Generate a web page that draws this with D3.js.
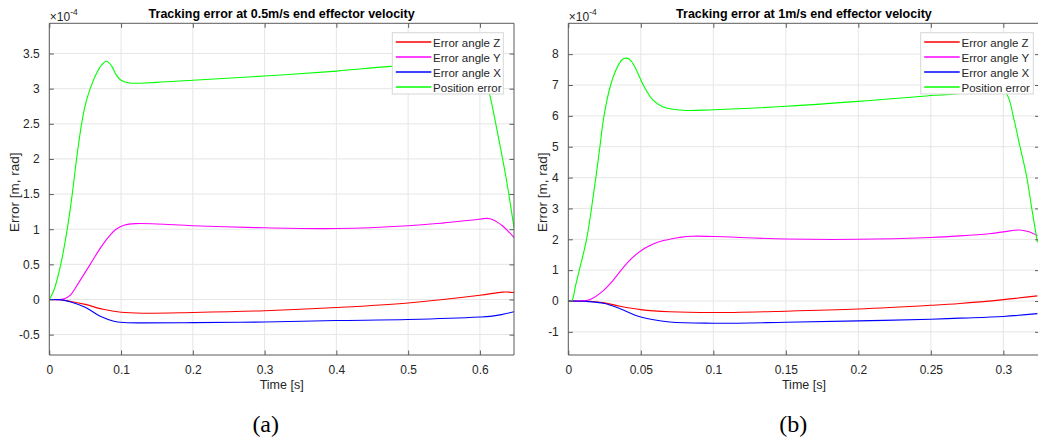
<!DOCTYPE html>
<html>
<head>
<meta charset="utf-8">
<script src="https://cdn.jsdelivr.net/npm/d3@7/dist/d3.min.js"></script>
<style>
  html, body { margin: 0; padding: 0; background: #ffffff; }
  svg { display: block; }
</style>
</head>
<body>
<svg id="chart" width="1038" height="441"></svg>
<script>
// ---------------- DATA (values in units of 1e-4) ----------------
const seriesNames = ["Error angle Z", "Error angle Y", "Error angle X", "Position error"];

// Chart (a): 0.5 m/s
const titleA = "Tracking error at 0.5m/s end effector velocity";
const captionA = "(a)";
const xTicksA = [0, 0.1, 0.2, 0.3, 0.4, 0.5, 0.6];
const yTicksA = [-0.5, 0, 0.5, 1, 1.5, 2, 2.5, 3, 3.5];
const xDomainA = [0, 0.6475];
const yDomainA = [-0.79, 3.93];
const angleZ_A = [[0,0],[0.015,-0.004],[0.03,-0.028],[0.05,-0.07],[0.075,-0.14],[0.1,-0.182],[0.13,-0.195],[0.2,-0.185],[0.3,-0.16],[0.4,-0.115],[0.5,-0.05],[0.6,0.06],[0.632,0.105],[0.6475,0.10]];
const angleY_A = [[0,0],[0.015,0.0],[0.022,0.015],[0.03,0.07],[0.041,0.24],[0.057,0.5],[0.073,0.76],[0.085,0.92],[0.093,1.0],[0.105,1.06],[0.12,1.08],[0.15,1.075],[0.2,1.05],[0.3,1.02],[0.4,1.01],[0.5,1.05],[0.55,1.09],[0.59,1.13],[0.614,1.15],[0.63,1.06],[0.6475,0.88]];
const angleX_A = [[0,0],[0.017,-0.005],[0.03,-0.035],[0.05,-0.11],[0.071,-0.24],[0.09,-0.31],[0.105,-0.328],[0.13,-0.333],[0.2,-0.33],[0.3,-0.32],[0.4,-0.30],[0.5,-0.285],[0.6,-0.25],[0.614,-0.24],[0.63,-0.215],[0.6475,-0.175]];
const position_A = [[0,0],[0.006,0.12],[0.016,0.5],[0.025,1.0],[0.032,1.5],[0.038,2.0],[0.045,2.5],[0.051,2.8],[0.057,3.0],[0.065,3.2],[0.073,3.34],[0.08,3.39],[0.087,3.32],[0.093,3.2],[0.1,3.12],[0.112,3.08],[0.15,3.09],[0.2,3.12],[0.3,3.18],[0.4,3.25],[0.48,3.32],[0.55,3.35],[0.595,3.38],[0.605,3.25],[0.614,2.9],[0.625,2.35],[0.637,1.70],[0.6475,1.02]];

// Chart (b): 1 m/s
const titleB = "Tracking error at 1m/s end effector velocity";
const captionB = "(b)";
const xTicksB = [0, 0.05, 0.1, 0.15, 0.2, 0.25, 0.3];
const yTicksB = [-1, 0, 1, 2, 3, 4, 5, 6, 7, 8];
const xDomainB = [0, 0.325];
const yDomainB = [-1.75, 9];
const angleZ_B = [[0,0],[0.015,-0.01],[0.025,-0.06],[0.0357,-0.17],[0.05,-0.28],[0.07,-0.35],[0.1,-0.375],[0.15,-0.33],[0.2,-0.26],[0.25,-0.14],[0.27,-0.08],[0.3,0.045],[0.3235,0.165]];
const angleY_B = [[0,0],[0.008,0.0],[0.015,0.05],[0.024,0.33],[0.03,0.62],[0.0356,0.95],[0.041,1.25],[0.047,1.52],[0.053,1.72],[0.0586,1.85],[0.065,1.95],[0.07,2.0],[0.078,2.07],[0.086,2.1],[0.1,2.09],[0.15,2.01],[0.2,2.0],[0.25,2.06],[0.27,2.11],[0.29,2.18],[0.3,2.24],[0.311,2.3],[0.317,2.25],[0.3235,2.12]];
const angleX_B = [[0,0],[0.012,-0.01],[0.025,-0.08],[0.0357,-0.25],[0.05,-0.52],[0.07,-0.68],[0.1,-0.72],[0.15,-0.69],[0.2,-0.645],[0.25,-0.59],[0.27,-0.555],[0.3,-0.5],[0.3235,-0.41]];
const position_B = [[0,0],[0.0023,0],[0.005,0.5],[0.0076,1.0],[0.0126,2.0],[0.016,3.0],[0.019,4.0],[0.0218,5.0],[0.0246,6.0],[0.0292,7.0],[0.033,7.5],[0.037,7.82],[0.0398,7.87],[0.043,7.8],[0.047,7.48],[0.0517,7.0],[0.0586,6.5],[0.066,6.28],[0.079,6.18],[0.1,6.2],[0.15,6.31],[0.2,6.47],[0.2425,6.63],[0.27,6.73],[0.29,6.85],[0.297,6.9],[0.3,6.85],[0.3035,6.6],[0.3075,5.85],[0.3115,5.0],[0.316,4.05],[0.3196,3.0],[0.3235,1.9]];

// ---------------- STYLE / LAYOUT ----------------
const colors = ["#ff0000", "#ff00ff", "#0000ff", "#00ff00"];
const FONT = "'Liberation Sans', Arial, Helvetica, sans-serif";
const textColor = "#262626";
const axisColor = "#5a5a5a";
const gridColor = "#e6e6e6";

const charts = [
  { title: titleA, caption: captionA, xTicks: xTicksA, yTicks: yTicksA, xDomain: xDomainA, yDomain: yDomainA,
    series: [angleZ_A, angleY_A, angleX_A, position_A],
    left: 49.3, right: 514, top: 23.3, bottom: 355, ylabelX: 19, legendX: 392.3, legendW: 111, captionX: 265.7 },
  { title: titleB, caption: captionB, xTicks: xTicksB, yTicks: yTicksB, xDomain: xDomainB, yDomain: yDomainB,
    series: [angleZ_B, angleY_B, angleX_B, position_B],
    left: 568.3, right: 1039.6, top: 23.3, bottom: 355, ylabelX: 546.5, legendX: 920.7, legendW: 112.6, captionX: 793.3 }
];

const svg = d3.select("#chart");

charts.forEach((c, ci) => {
  const x = d3.scaleLinear().domain(c.xDomain).range([c.left, c.right]);
  const y = d3.scaleLinear().domain(c.yDomain).range([c.bottom, c.top]);
  const g = svg.append("g");

  const clipId = "clip" + ci;
  svg.append("clipPath").attr("id", clipId).append("rect")
    .attr("x", c.left).attr("y", c.top).attr("width", c.right - c.left).attr("height", c.bottom - c.top);

  // grid
  g.append("g").selectAll("line").data(c.xTicks).join("line")
    .attr("x1", d => x(d)).attr("x2", d => x(d)).attr("y1", c.top).attr("y2", c.bottom)
    .attr("stroke", gridColor).attr("stroke-width", 1);
  g.append("g").selectAll("line").data(c.yTicks).join("line")
    .attr("x1", c.left).attr("x2", c.right).attr("y1", d => y(d)).attr("y2", d => y(d))
    .attr("stroke", gridColor).attr("stroke-width", 1);

  const tl = 4.5;
  const xAxisB = d3.axisBottom(x).tickValues(c.xTicks).tickSize(-tl).tickPadding(tl + 6).tickFormat(d => String(d));
  const xAxisT = d3.axisTop(x).tickValues(c.xTicks).tickSize(-tl).tickFormat("");
  const yAxisL = d3.axisLeft(y).tickValues(c.yTicks).tickSize(-tl).tickPadding(tl + 5).tickFormat(d => String(d));
  const yAxisR = d3.axisRight(y).tickValues(c.yTicks).tickSize(-tl).tickFormat("");

  // lines
  const lineGen = d3.line().x(d => x(d[0])).y(d => y(d[1])).curve(d3.curveCatmullRom.alpha(0.5));
  const lg = g.append("g").attr("clip-path", `url(#${clipId})`);
  c.series.forEach((s, i) => {
    lg.append("path").datum(s).attr("d", lineGen)
      .attr("fill", "none").attr("stroke", colors[i]).attr("stroke-width", 1.1)
      .attr("stroke-linejoin", "round");
  });

  const styleAxis = sel => {
    sel.select(".domain").attr("stroke", axisColor).attr("stroke-width", 1);
    sel.selectAll(".tick line").attr("stroke", axisColor).attr("stroke-width", 1);
    sel.selectAll(".tick text").attr("fill", textColor).style("font-family", FONT).style("font-size", "12px");
    sel.attr("font-family", null).attr("font-size", null);
  };
  g.append("g").attr("transform", `translate(0,${c.bottom})`).call(xAxisB).call(styleAxis)
    .call(s => s.select(".domain").attr("d", `M${c.left},0H${c.right}`));
  g.append("g").attr("transform", `translate(0,${c.top})`).call(xAxisT).call(styleAxis)
    .call(s => s.select(".domain").attr("d", `M${c.left},0H${c.right}`));
  g.append("g").attr("transform", `translate(${c.left},0)`).call(yAxisL).call(styleAxis)
    .call(s => s.select(".domain").attr("d", `M0,${c.top}V${c.bottom}`));
  g.append("g").attr("transform", `translate(${c.right},0)`).call(yAxisR).call(styleAxis)
    .call(s => s.select(".domain").attr("d", `M0,${c.top}V${c.bottom}`));

  // exponent label
  const ex = g.append("text").attr("x", c.left + 0.5).attr("y", 20.5)
    .attr("fill", textColor).style("font-family", FONT).style("font-size", "12px");
  ex.append("tspan").text("\u00d710");
  ex.append("tspan").attr("dy", -6).style("font-size", "8.5px").text("-4");

  // title
  g.append("text").attr("x", (c.left + c.right) / 2).attr("y", 18)
    .attr("text-anchor", "middle").attr("fill", "#000")
    .style("font-family", FONT).style("font-size", "12.5px").style("font-weight", "bold")
    .text(c.title);

  // x label
  g.append("text").attr("x", (c.left + c.right) / 2).attr("y", 389)
    .attr("text-anchor", "middle").attr("fill", textColor)
    .style("font-family", FONT).style("font-size", "12.5px").text("Time [s]");

  // y label
  g.append("text").attr("transform", `translate(${c.ylabelX},${(c.top + c.bottom) / 2 + 3}) rotate(-90)`)
    .attr("text-anchor", "middle").attr("fill", textColor)
    .style("font-family", FONT).style("font-size", "13.5px").text("Error [m, rad]");

  // legend
  const ly = 32.7, lh = 61.3;
  const leg = g.append("g");
  leg.append("rect").attr("x", c.legendX).attr("y", ly).attr("width", c.legendW).attr("height", lh)
    .attr("fill", "#ffffff").attr("stroke", "#d6d6d6").attr("stroke-width", 1);
  seriesNames.forEach((n, i) => {
    const yy = Math.round(ly + 8.8 + i * 15.1);
    leg.append("line").attr("x1", c.legendX + 3.5).attr("x2", c.legendX + 39)
      .attr("y1", yy).attr("y2", yy).attr("stroke", colors[i]).attr("stroke-width", 1.6);
    leg.append("text").attr("x", c.legendX + 40.8).attr("y", yy + 4.5)
      .attr("fill", textColor).style("font-family", FONT).style("font-size", "11.5px").text(n);
  });

  // caption
  g.append("text").attr("x", c.captionX).attr("y", 432).attr("text-anchor", "middle")
    .attr("fill", "#000").style("font-family", "'Liberation Serif', 'Times New Roman', serif")
    .style("font-size", "24px").text(c.caption);
});
</script>
</body>
</html>
